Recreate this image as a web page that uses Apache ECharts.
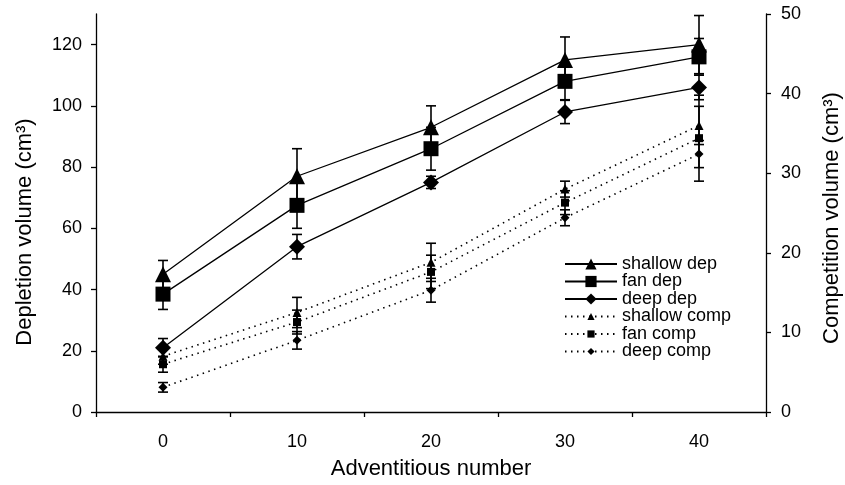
<!DOCTYPE html>
<html>
<head>
<meta charset="utf-8">
<script src="https://cdn.jsdelivr.net/npm/echarts@6/dist/echarts.min.js"></script>
<style>html,body{margin:0;padding:0;background:#fff}#c{width:845px;height:485px}</style>
</head>
<body>
<div id="c"></div>
<script>
const categories = ['0', '10', '20', '30', '40'];
const depNames = ['shallow dep', 'fan dep', 'deep dep'];
const compNames = ['shallow comp', 'fan comp', 'deep comp'];
// Depletion volume (left axis, cm3)
const shallowDep = [45, 77, 93, 115, 120];
const shallowDepErr = [4.5, 9, 7, 7.5, 9.5];
const fanDep = [38.5, 67.5, 86, 108, 116];
const fanDepErr = [5, 7.5, 7, 6, 6];
const deepDep = [21, 54, 75, 98, 106];
const deepDepErr = [3, 4, 2, 3.8, 4];
// Competition volume (right axis, cm3)
const shallowComp = [7, 12.5, 18.8, 28, 36];
const shallowCompErr = [1, 1.9, 2.4, 1, 2.4];
const fanComp = [6, 11.3, 17.6, 26.3, 34.4];
const fanCompErr = [1, 1.5, 2.1, 1.5, 5.4];
const deepComp = [3.1, 9, 15.3, 24.4, 32.4];
const deepCompErr = [0.6, 1.1, 1.5, 1, 1.7];

const FONT = '"Liberation Sans", Arial, sans-serif';

function errSeries(vals, errs, axisIdx) {
  return {
    type: 'custom',
    yAxisIndex: axisIdx,
    silent: true,
    z: 1,
    data: vals.map((v, i) => [i, v - errs[i], v + errs[i]]),
    encode: { x: 0, y: [1, 2] },
    renderItem: function (params, api) {
      const x = api.value(0);
      const lo = api.coord([x, api.value(1)]);
      const hi = api.coord([x, api.value(2)]);
      const w = 5;
      const st = { stroke: '#000', lineWidth: 1.6 };
      return {
        type: 'group',
        children: [
          { type: 'line', shape: { x1: lo[0], y1: lo[1], x2: hi[0], y2: hi[1] }, style: st },
          { type: 'line', shape: { x1: lo[0] - w, y1: lo[1], x2: lo[0] + w, y2: lo[1] }, style: st },
          { type: 'line', shape: { x1: hi[0] - w, y1: hi[1], x2: hi[0] + w, y2: hi[1] }, style: st }
        ]
      };
    }
  };
}

function lineSeries(name, vals, axisIdx, symbol, size, dotted) {
  return {
    name: name,
    type: 'line',
    yAxisIndex: axisIdx,
    data: vals,
    symbol: symbol,
    symbolSize: size,
    showAllSymbol: true,
    z: 3,
    itemStyle: { color: '#000' },
    lineStyle: { color: '#000', width: dotted ? 1.6 : 1.3, type: dotted ? [1.5, 4.5] : 'solid' },
    emphasis: { disabled: true }
  };
}

const axisLine = { show: true, lineStyle: { color: '#000', width: 1.3 } };
const axisTick = { show: true, length: 5, lineStyle: { color: '#000', width: 1.3 } };
const axisLabel = { color: '#000', fontSize: 18, fontFamily: FONT };
const nameStyle = { color: '#000', fontSize: 22, fontFamily: FONT };
const legendText = { color: '#000', fontSize: 18, fontFamily: FONT };

const chart = echarts.init(document.getElementById('c'), null, { renderer: 'canvas' });
chart.setOption({
  backgroundColor: '#fff',
  animation: false,
  grid: { left: 96, right: 79, top: 14, bottom: 73, containLabel: false, outerBoundsMode: 'none' },
  legend: [
    {
      data: depNames,
      orient: 'vertical',
      left: 559,
      top: 250,
      itemWidth: 52,
      itemHeight: 14,
      itemGap: -0.5,
      textStyle: legendText,
      selectedMode: false
    },
    {
      data: compNames,
      orient: 'vertical',
      left: 559,
      top: 302.5,
      itemWidth: 52,
      itemHeight: 9,
      itemGap: -0.5,
      textStyle: legendText,
      selectedMode: false
    }
  ],
  xAxis: {
    type: 'category',
    data: categories,
    boundaryGap: true,
    axisLine: axisLine,
    axisTick: axisTick,
    axisLabel: Object.assign({ margin: 21 }, axisLabel),
    name: 'Adventitious number',
    nameLocation: 'middle',
    nameGap: 46,
    nameTextStyle: nameStyle,
    splitLine: { show: false }
  },
  yAxis: [
    {
      type: 'value',
      min: 0, max: 130, interval: 20,
      position: 'left',
      axisLine: axisLine,
      axisTick: axisTick,
      axisLabel: Object.assign({ margin: 14, showMaxLabel: false }, axisLabel),
      splitLine: { show: false },
      name: 'Depletion volume (cm³)',
      nameLocation: 'middle',
      nameGap: 60,
      nameTextStyle: Object.assign({ padding: [0, 38, 0, 0] }, nameStyle)
    },
    {
      type: 'value',
      min: 0, max: 50, interval: 10,
      position: 'right',
      axisLine: axisLine,
      axisTick: axisTick,
      axisLabel: Object.assign({ margin: 15 }, axisLabel),
      splitLine: { show: false },
      name: 'Competition volume (cm³)',
      nameLocation: 'middle',
      nameGap: 55,
      nameTextStyle: Object.assign({ padding: [0, 10, 0, 0] }, nameStyle)
    }
  ],
  series: [
    errSeries(shallowDep, shallowDepErr, 0),
    errSeries(fanDep, fanDepErr, 0),
    errSeries(deepDep, deepDepErr, 0),
    errSeries(shallowComp, shallowCompErr, 1),
    errSeries(fanComp, fanCompErr, 1),
    errSeries(deepComp, deepCompErr, 1),
    lineSeries(depNames[0], shallowDep, 0, 'triangle', 16, false),
    lineSeries(depNames[1], fanDep, 0, 'rect', 15, false),
    lineSeries(depNames[2], deepDep, 0, 'diamond', 16, false),
    lineSeries(compNames[0], shallowComp, 1, 'triangle', 9, true),
    lineSeries(compNames[1], fanComp, 1, 'rect', 8, true),
    lineSeries(compNames[2], deepComp, 1, 'diamond', 9, true)
  ]
});
</script>
</body>
</html>
